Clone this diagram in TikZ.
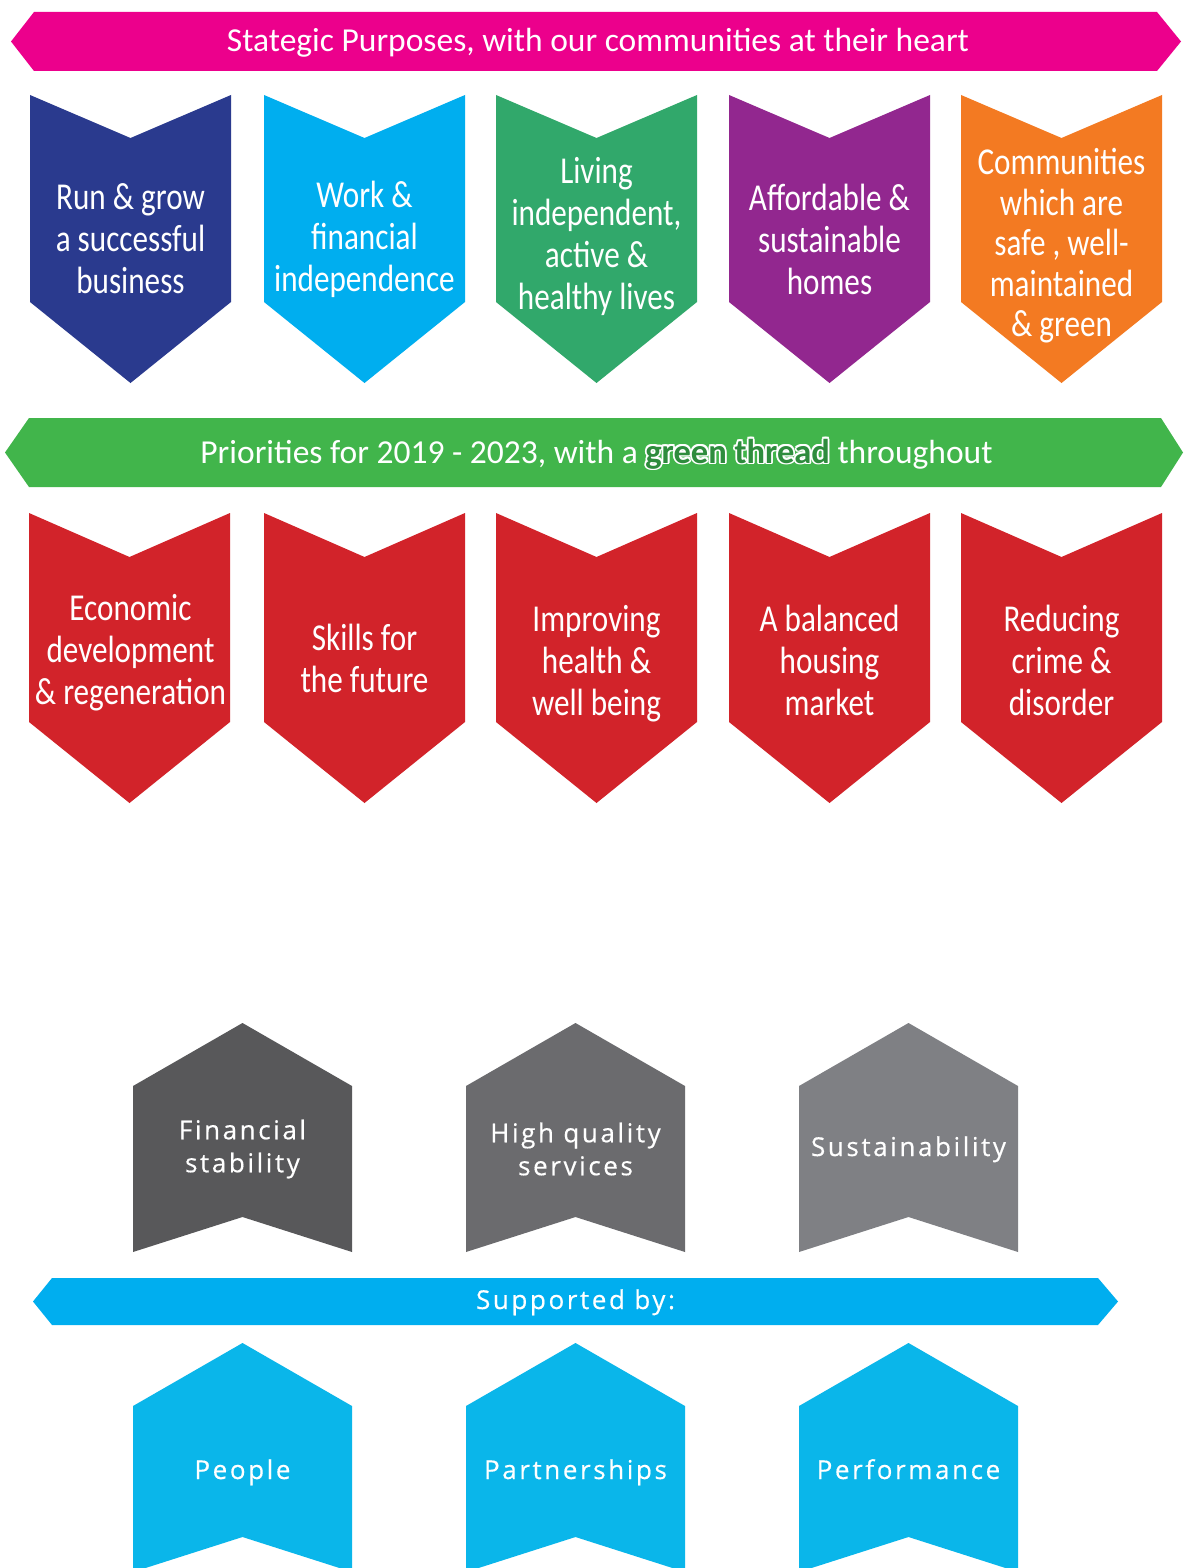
\documentclass[tikz,border=0pt]{standalone}
\usepackage{fontspec}
\setmainfont{Carlito}
\newfontfamily\condf[FakeStretch=0.82]{Carlito}
\newfontfamily\banf{Carlito}
\newfontfamily\gtf{Carlito}
\newfontfamily\widef[LetterSpace=10,FakeBold=0.4]{Open Sans}
\definecolor{pinkb}{HTML}{EC008C}
\definecolor{dblue}{HTML}{2A3A8E}
\definecolor{lblue}{HTML}{00AEEF}
\definecolor{mgreen}{HTML}{31A86B}
\definecolor{purp}{HTML}{92278F}
\definecolor{orng}{HTML}{F37A22}
\definecolor{gbanner}{HTML}{41B54B}
\definecolor{gthr}{HTML}{2E8C3D}
\definecolor{redc}{HTML}{D2232A}
\definecolor{grayA}{HTML}{58585A}
\definecolor{grayB}{HTML}{6B6B6E}
\definecolor{grayC}{HTML}{7F8084}
\definecolor{bbanner}{HTML}{00AEEF}
\definecolor{bshape}{HTML}{0AB6EA}
% down-pointing chevron: x0, ytop, notch, body-bottom offset, point offset, colour
\newcommand\downchev[6]{\fill[#6] (#1,#2) -- (#1+100.5,#2+#3) -- (#1+201,#2) -- (#1+201,#2+#4) -- (#1+100.5,#2+#5) -- (#1,#2+#4) -- cycle;}
% up-pointing chevron: x0, ytop, colour
\newcommand\upchev[3]{\fill[#3] (#1+109.5,#2) -- (#1+219,#2+63) -- (#1+219,#2+229) -- (#1+109.5,#2+194) -- (#1,#2+229) -- (#1,#2+63) -- cycle;}
% banner: left tip, left body, right body, right tip, ytop, ybot, colour
\newcommand\banner[7]{\fill[#7] (#1,{(#5+#6)/2}) -- (#2,#5) -- (#3,#5) -- (#4,{(#5+#6)/2}) -- (#3,#6) -- (#2,#6) -- cycle;}
\newcommand\gthread[1]{%
 \setbox0=\hbox{\gtf\bfseries\fontsize{34.5}{36}\selectfont #1}%
 \rlap{\color{white}%
  \rlap{\kern1.8pt\copy0}\rlap{\kern-1.8pt\copy0}\rlap{\raise1.8pt\copy0}\rlap{\lower1.8pt\copy0}%
  \rlap{\kern1.3pt\raise1.3pt\copy0}\rlap{\kern-1.3pt\raise1.3pt\copy0}%
  \rlap{\kern1.3pt\lower1.3pt\copy0}\rlap{\kern-1.3pt\lower1.3pt\copy0}}%
 {\color{gthr}\copy0}}
\tikzset{
  chevtxt/.style={text=white, font=\condf\fontsize{38}{42}\selectfont, align=center, inner sep=0pt},
  bantxt/.style={text=white, font=\banf\fontsize{33.5}{36}\selectfont, inner sep=0pt, anchor=base},
  lowtxt/.style={text=white, font=\widef\fontsize{26}{33}\selectfont, align=center, inner sep=0pt},
  lowone/.style={lowtxt, anchor=base}
}
\begin{document}
\begin{tikzpicture}[x=1pt,y=-1pt]
\useasboundingbox (0,0) rectangle (1183,1568);
\clip (0,0) rectangle (1183,1568);
\fill[white] (0,0) rectangle (1183,1568);
% top banner
\banner{11}{34}{1157}{1181}{12}{71}{pinkb}
\node[bantxt] (t1) at (598,52) {Stategic Purposes, with our communities at their heart};
% top chevrons
\downchev{30}{95}{43}{207}{288}{dblue}
\downchev{264}{95}{43}{207}{288}{lblue}
\downchev{496}{95}{43}{207}{288}{mgreen}
\downchev{729}{95}{43}{207}{288}{purp}
\downchev{961}{95}{43}{207}{288}{orng}
\node[chevtxt] (c1) at (130.5,239) {Run \& grow\\a successful\\business};
\node[chevtxt] (c2) at (364.5,239) {Work \&\\financial\\independence};
\node[chevtxt] (c3) at (596.5,236.5) {Living\\independent,\\active \&\\healthy lives};
\node[chevtxt] (c4) at (829.5,239) {Affordable \&\\sustainable\\homes};
\node[chevtxt, font=\condf\fontsize{38}{40.5}\selectfont] (c5) at (1061.5,246) {Communities\\which are\\safe , well-\\maintained\\\& green};
% green banner
\banner{5}{29}{1161}{1183}{418}{487}{gbanner}
\node[bantxt] (t2) at (596.5,463) {Priorities for 2019 - 2023, with a \gthread{green thread} throughout};
% red chevrons
\downchev{29}{513}{44}{209}{290}{redc}
\downchev{264}{513}{44}{209}{290}{redc}
\downchev{496}{513}{44}{209}{290}{redc}
\downchev{729}{513}{44}{209}{290}{redc}
\downchev{961}{513}{44}{209}{290}{redc}
\node[chevtxt] (r1) at (130.5,653) {Economic\\development\\\& regeneration};
\node[chevtxt] (r2) at (364.5,658) {Skills for\\the future};
\node[chevtxt] (r3) at (596.5,664) {Improving\\health \&\\well being};
\node[chevtxt] (r4) at (829.5,660) {A balanced\\housing\\market};
\node[chevtxt] (r5) at (1061.5,660) {Reducing\\crime \&\\disorder};
% gray up chevrons
\upchev{133}{1023}{grayA}
\upchev{466}{1023}{grayB}
\upchev{799}{1023}{grayC}
\node[lowtxt] (g1) at (242.5,1149) {Financial\\stability};
\node[lowtxt] (g2) at (575.5,1149) {High quality\\services};
\node[lowone] (g3) at (908.5,1156) {Sustainability};
% blue banner
\banner{33}{52}{1098}{1118}{1278}{1325}{bbanner}
\node[lowone] (t3) at (575.5,1309) {Supported by:};
% blue up chevrons
\upchev{133}{1343}{bshape}
\upchev{466}{1343}{bshape}
\upchev{799}{1343}{bshape}
\node[lowone] (b1) at (242.5,1479) {People};
\node[lowone] (b2) at (575.5,1479) {Partnerships};
\node[lowone] (b3) at (908.5,1479) {Performance};
\end{tikzpicture}
\end{document}
